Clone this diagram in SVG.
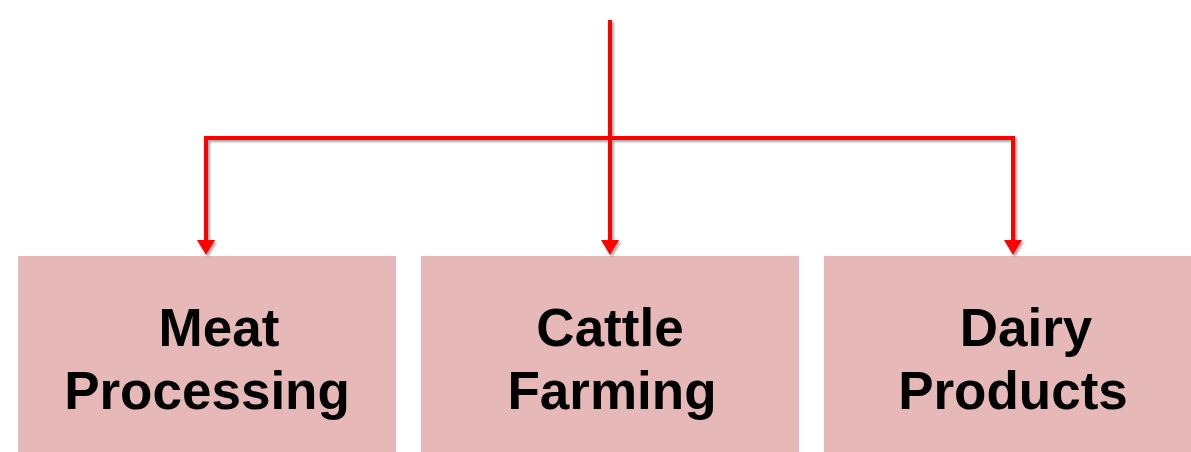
<svg xmlns="http://www.w3.org/2000/svg" width="1191" height="452" viewBox="0 0 1191 452">
<style>
.box{fill:#E6B8B7;}
.lbl{font-family:"Liberation Sans",Arial,sans-serif;font-weight:bold;font-size:53px;fill:#000;text-anchor:middle;}
.con{fill:none;stroke:#FF0000;stroke-width:4;stroke-linejoin:miter;}
.ah{fill:#FF0000;}
</style>
<defs>
<filter id="sh" x="-20%" y="-20%" width="140%" height="140%">
<feDropShadow dx="2" dy="2" stdDeviation="1.2" flood-color="#000" flood-opacity="0.35"/>
</filter>
</defs>
<g id="node-meat">
<rect class="box" x="18" y="256" width="378" height="200"/>
<text class="lbl"><tspan x="219" y="346">Meat</tspan><tspan x="207" y="409">Processing</tspan></text>
</g>
<g id="node-cattle">
<rect class="box" x="421" y="256" width="378" height="200"/>
<text class="lbl"><tspan x="610" y="346">Cattle</tspan><tspan x="612" y="409">Farming</tspan></text>
</g>
<g id="node-dairy">
<rect class="box" x="824" y="256" width="378" height="200"/>
<text class="lbl"><tspan x="1026" y="346">Dairy</tspan><tspan x="1013" y="409">Products</tspan></text>
</g>
<g id="connectors" filter="url(#sh)">
<path class="con" d="M206 241 V138 H1013 V241"/>
<path class="con" d="M610 20 V241"/>
<path class="ah" d="M197 240 L215 240 L206 255 Z"/>
<path class="ah" d="M601 240 L619 240 L610 255 Z"/>
<path class="ah" d="M1004 240 L1022 240 L1013 255 Z"/>
</g>
</svg>
